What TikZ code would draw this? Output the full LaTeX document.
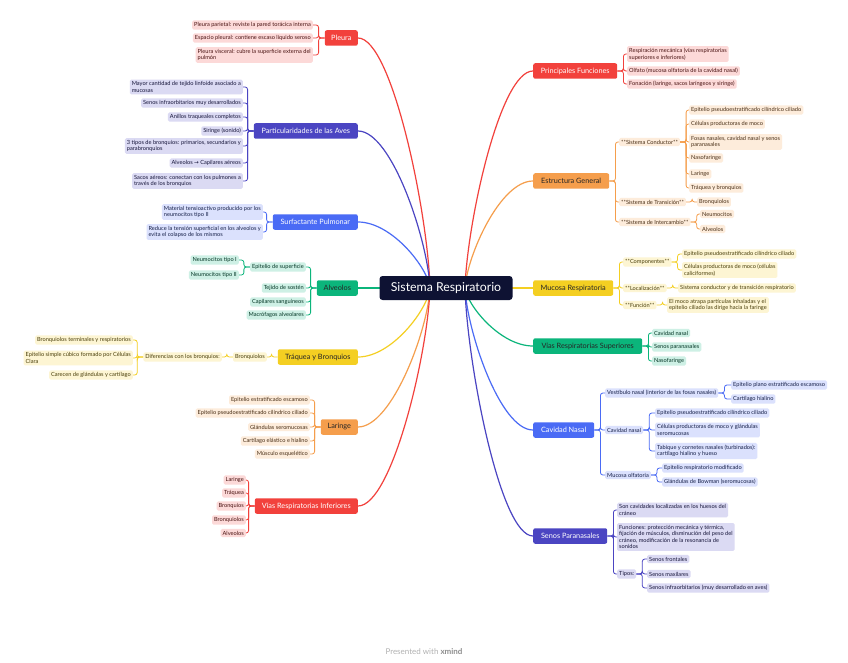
\documentclass[tikz,border=0pt]{standalone}
\usepackage{fontspec}
\setmainfont{Lato}
\newfontfamily\arrowfont{DejaVu Sans}
\usetikzlibrary{calc}
\definecolor{cRed}{HTML}{F2413C}
\definecolor{cInd}{HTML}{4B45C2}
\definecolor{cBlu}{HTML}{4A6BF5}
\definecolor{cGrn}{HTML}{0BB57B}
\definecolor{cYel}{HTML}{F4CF22}
\definecolor{cOrg}{HTML}{F59E4C}
\definecolor{cNavy}{HTML}{0E1233}
\tikzset{
 lf/.style={fill=#1!20, text=#1!30!black, rounded corners=1.5pt, inner xsep=2pt, inner ysep=2pt, font=\fontsize{5.65}{6.6}\selectfont, align=left},
 lfL/.style={lf=#1, anchor=east},
 lfR/.style={lf=#1, anchor=west},
 br/.style={fill=#1, rounded corners=2pt, minimum height=15.5pt, inner xsep=3pt, font=\fontsize{7.3}{8.3}\selectfont},
 brL/.style={br=#1, anchor=east},
 brR/.style={br=#1, anchor=west},
 ln/.style={draw=#1, line width=0.8pt, rounded corners=2.5pt},
 mc/.style={draw=#1, line width=1.2pt},
 centre/.style={fill=cNavy, text=white, rounded corners=3pt, minimum width=133pt, minimum height=24pt, font=\fontsize{12.3}{14}\selectfont},
}
\newcommand\lc[3]{\draw[ln=#1] (#2.west) -- ++(-6,0) |- (#3.east);}
\newcommand\rc[3]{\draw[ln=#1] (#2.east) -- ++(6,0) |- (#3.west);}
\begin{document}
\begin{tikzpicture}[x=1pt,y=-1pt]
\fill[white] (0,0) rectangle (848,663);
\useasboundingbox (0,0) rectangle (848,663);
% ---------- left main branches
\node[brL=cRed, text=white, minimum width=33pt] (pl) at (358,38) {Pleura};
\node[brL=cInd, text=white, minimum width=104pt] (av) at (358,131) {Particularidades de las Aves};
\node[brL=cBlu, text=white, minimum width=85pt] (sf) at (358,222) {Surfactante Pulmonar};
\node[brL=cGrn, text=black!85, minimum width=41pt] (al) at (358,288) {Alveolos};
\node[brL=cYel, text=black!85, minimum width=80pt] (tq) at (358,357) {Tráquea y Bronquios};
\node[brL=cOrg, text=black!85, minimum width=37pt] (lr) at (358,427) {Laringe};
\node[brL=cRed, text=white, minimum width=103pt] (vi) at (358,506) {Vías Respiratorias Inferiores};
% ---------- right main branches
\node[brR=cRed, text=white, minimum width=84pt] (pf) at (533,71) {Principales Funciones};
\node[brR=cOrg, text=black!85, minimum width=76pt] (eg) at (533,181) {Estructura General};
\node[brR=cYel, text=black!85, minimum width=80pt] (mr) at (533,288) {Mucosa Respiratoria};
\node[brR=cGrn, text=black!85, minimum width=109pt] (vs) at (533,346) {Vías Respiratorias Superiores};
\node[brR=cBlu, text=white, minimum width=61pt] (cn) at (533,430) {Cavidad Nasal};
\node[brR=cInd, text=white, minimum width=74pt] (sp) at (533,536) {Senos Paranasales};
% ---------- main curves
\draw[mc=cRed] (pl.east) .. controls (392,38) and (428,213) .. (430,288);
\draw[mc=cInd] (av.east) .. controls (392,131) and (428,241) .. (430,288);
\draw[mc=cBlu] (sf.east) .. controls (392,222) and (428,268) .. (430,288);
\draw[mc=cGrn] (al.east) -- (430,288);
\draw[mc=cYel] (tq.east) .. controls (392,357) and (428,309) .. (430,288);
\draw[mc=cOrg] (lr.east) .. controls (392,427) and (428,330) .. (430,288);
\draw[mc=cRed] (vi.east) .. controls (392,506) and (428,353) .. (430,288);
\draw[mc=cRed] (pf.west) .. controls (500,71) and (467,223) .. (465,288);
\draw[mc=cOrg] (eg.west) .. controls (500,181) and (467,256) .. (465,288);
\draw[mc=cYel] (mr.west) -- (465,288);
\draw[mc=cGrn] (vs.west) .. controls (500,346) and (467,305) .. (465,288);
\draw[mc=cBlu] (cn.west) .. controls (500,430) and (467,331) .. (465,288);
\draw[mc=cInd] (sp.west) .. controls (500,536) and (467,362) .. (465,288);
\node[centre] (C) at (446,288) {Sistema Respiratorio};
% ---------- Pleura
\node[lfL=cRed] (pl1) at (313,25) {Pleura parietal: reviste la pared torácica interna};
\node[lfL=cRed] (pl2) at (313,38) {Espacio pleural: contiene escaso líquido seroso};
\node[lfL=cRed] (pl3) at (313,55) {Pleura visceral: cubre la superficie externa del\\pulmón};
\foreach \n in {pl1,pl2,pl3} {\lc{cRed}{pl}{\n}}
% ---------- Aves
\node[lfL=cInd] (av1) at (243,87) {Mayor cantidad de tejido linfoide asociado a\\mucosas};
\node[lfL=cInd] (av2) at (243,103) {Senos infraorbitarios muy desarrollados};
\node[lfL=cInd] (av3) at (243,117) {Anillos traqueales completos};
\node[lfL=cInd] (av4) at (243,131) {Siringe (sonido)};
\node[lfL=cInd] (av5) at (243,146) {3 tipos de bronquios: primarios, secundarios y\\parabronquios};
\node[lfL=cInd] (av6) at (243,163) {Alveolos {\arrowfont →} Capilares aéreos};
\node[lfL=cInd] (av7) at (243,181) {Sacos aéreos: conectan con los pulmones a\\través de los bronquios};
\foreach \n in {av1,av2,av3,av4,av5,av6,av7} {\lc{cInd}{av}{\n}}
% ---------- Surfactante
\node[lfL=cBlu] (sf1) at (263,212) {Material tensioactivo producido por los\\neumocitos tipo II};
\node[lfL=cBlu] (sf2) at (263,232) {Reduce la tensión superficial en los alveolos y\\evita el colapso de los mismos};
\foreach \n in {sf1,sf2} {\lc{cBlu}{sf}{\n}}
% ---------- Alveolos
\node[lfL=cGrn] (al1) at (306,267) {Epitelio de superficie};
\node[lfL=cGrn] (al2) at (306,288) {Tejido de sostén};
\node[lfL=cGrn] (al3) at (306,302) {Capilares sanguíneos};
\node[lfL=cGrn] (al4) at (306,315) {Macrófagos alveolares};
\foreach \n in {al1,al2,al3,al4} {\lc{cGrn}{al}{\n}}
\node[lfL=cGrn] (al1a) at (239,260) {Neumocitos tipo I};
\node[lfL=cGrn] (al1b) at (239,275) {Neumocitos tipo II};
\foreach \n in {al1a,al1b} {\lc{cGrn}{al1}{\n}}
% ---------- Traquea
\node[lfL=cYel] (tq1) at (267,357) {Bronquiolos};
\node[lfL=cYel] (tq2) at (222,357) {Diferencias con los bronquios:};
\lc{cYel}{tq}{tq1}
\lc{cYel}{tq1}{tq2}
\node[lfL=cYel] (tq2a) at (133,340) {Bronquiolos terminales y respiratorios};
\node[lfL=cYel] (tq2b) at (133,358) {Epitelio simple cúbico formado por Células\\Clara};
\node[lfL=cYel] (tq2c) at (133,375) {Carecen de glándulas y cartílago};
\foreach \n in {tq2a,tq2b,tq2c} {\lc{cYel}{tq2}{\n}}
% ---------- Laringe
\node[lfL=cOrg] (lr1) at (310,400) {Epitelio estratificado escamoso};
\node[lfL=cOrg] (lr2) at (310,413) {Epitelio pseudoestratificado cilíndrico ciliado};
\node[lfL=cOrg] (lr3) at (310,427) {Glándulas seromucosas};
\node[lfL=cOrg] (lr4) at (310,441) {Cartílago elástico e hialino};
\node[lfL=cOrg] (lr5) at (310,454) {Músculo esquelético};
\foreach \n in {lr1,lr2,lr3,lr4,lr5} {\lc{cOrg}{lr}{\n}}
% ---------- Vias inferiores
\node[lfL=cRed] (vi1) at (246,480) {Laringe};
\node[lfL=cRed] (vi2) at (246,493) {Tráquea};
\node[lfL=cRed] (vi3) at (246,506) {Bronquios};
\node[lfL=cRed] (vi4) at (246,520) {Bronquiolos};
\node[lfL=cRed] (vi5) at (246,533) {Alveolos};
\foreach \n in {vi1,vi2,vi3,vi4,vi5} {\lc{cRed}{vi}{\n}}
% ---------- Principales Funciones
\node[lfR=cRed] (pf1) at (627,54) {Respiración mecánica (vías respiratorias\\superiores e inferiores)};
\node[lfR=cRed] (pf2) at (627,71) {Olfato (mucosa olfatoria de la cavidad nasal)};
\node[lfR=cRed] (pf3) at (627,84) {Fonación (laringe, sacos laríngeos y siringe)};
\foreach \n in {pf1,pf2,pf3} {\rc{cRed}{pf}{\n}}
% ---------- Estructura General
\node[lfR=cOrg] (eg1) at (619,142) {**Sistema Conductor**};
\node[lfR=cOrg] (eg2) at (619,202) {**Sistema de Transición**};
\node[lfR=cOrg] (eg3) at (619,222) {**Sistema de Intercambio**};
\foreach \n in {eg1,eg2,eg3} {\rc{cOrg}{eg}{\n}}
\node[lfR=cOrg] (eg1a) at (689,110) {Epitelio pseudoestratificado cilíndrico ciliado};
\node[lfR=cOrg] (eg1b) at (689,124) {Células productoras de moco};
\node[lfR=cOrg] (eg1c) at (689,142) {Fosas nasales, cavidad nasal y senos\\paranasales};
\node[lfR=cOrg] (eg1d) at (689,158) {Nasofaringe};
\node[lfR=cOrg] (eg1e) at (689,174) {Laringe};
\node[lfR=cOrg] (eg1f) at (689,188) {Tráquea y bronquios};
\foreach \n in {eg1a,eg1b,eg1c,eg1d,eg1e,eg1f} {\rc{cOrg}{eg1}{\n}}
\node[lfR=cOrg] (eg2a) at (697,202) {Bronquiolos};
\rc{cOrg}{eg2}{eg2a}
\node[lfR=cOrg] (eg3a) at (700,214) {Neumocitos};
\node[lfR=cOrg] (eg3b) at (700,229) {Alveolos};
\foreach \n in {eg3a,eg3b} {\rc{cOrg}{eg3}{\n}}
% ---------- Mucosa
\node[lfR=cYel] (mr1) at (623,262) {**Componentes**};
\node[lfR=cYel] (mr2) at (623,288) {**Localización**};
\node[lfR=cYel] (mr3) at (623,305) {**Función**};
\foreach \n in {mr1,mr2,mr3} {\rc{cYel}{mr}{\n}}
\node[lfR=cYel] (mr1a) at (682,254) {Epitelio pseudoestratificado cilíndrico ciliado};
\node[lfR=cYel] (mr1b) at (682,270) {Células productoras de moco (células\\caliciformes)};
\foreach \n in {mr1a,mr1b} {\rc{cYel}{mr1}{\n}}
\node[lfR=cYel] (mr2a) at (678,288) {Sistema conductor y de transición respiratorio};
\rc{cYel}{mr2}{mr2a}
\node[lfR=cYel] (mr3a) at (667,305) {El moco atrapa partículas inhaladas y el\\epitelio ciliado las dirige hacia la faringe};
\rc{cYel}{mr3}{mr3a}
% ---------- Vias superiores
\node[lfR=cGrn] (vs1) at (652,333) {Cavidad nasal};
\node[lfR=cGrn] (vs2) at (652,347) {Senos paranasales};
\node[lfR=cGrn] (vs3) at (652,361) {Nasofaringe};
\foreach \n in {vs1,vs2,vs3} {\rc{cGrn}{vs}{\n}}
% ---------- Cavidad Nasal
\node[lfR=cBlu] (cn1) at (605,393) {Vestíbulo nasal (interior de las fosas nasales)};
\node[lfR=cBlu] (cn2) at (605,430) {Cavidad nasal};
\node[lfR=cBlu] (cn3) at (605,475) {Mucosa olfatoria};
\foreach \n in {cn1,cn2,cn3} {\rc{cBlu}{cn}{\n}}
\node[lfR=cBlu] (cn1a) at (731,385) {Epitelio plano estratificado escamoso};
\node[lfR=cBlu] (cn1b) at (731,399) {Cartílago hialino};
\foreach \n in {cn1a,cn1b} {\rc{cBlu}{cn1}{\n}}
\node[lfR=cBlu] (cn2a) at (655,413) {Epitelio pseudoestratificado cilíndrico ciliado};
\node[lfR=cBlu] (cn2b) at (655,430) {Células productoras de moco y glándulas\\seromucosas};
\node[lfR=cBlu] (cn2c) at (655,451) {Tabique y cornetes nasales (turbinados):\\cartílago hialino y hueso};
\foreach \n in {cn2a,cn2b,cn2c} {\rc{cBlu}{cn2}{\n}}
\node[lfR=cBlu] (cn3a) at (662,468) {Epitelio respiratorio modificado};
\node[lfR=cBlu] (cn3b) at (662,482) {Glándulas de Bowman (seromucosas)};
\foreach \n in {cn3a,cn3b} {\rc{cBlu}{cn3}{\n}}
% ---------- Senos Paranasales
\node[lfR=cInd] (sp1) at (617,510) {Son cavidades localizadas en los huesos del\\cráneo};
\node[lfR=cInd] (sp2) at (617,537) {Funciones: protección mecánica y térmica,\\fijación de músculos, disminución del peso del\\cráneo, modificación de la resonancia de\\sonidos};
\node[lfR=cInd] (sp3) at (617,574) {Tipos:};
\foreach \n in {sp1,sp2,sp3} {\rc{cInd}{sp}{\n}}
\node[lfR=cInd] (sp3a) at (647,559) {Senos frontales};
\node[lfR=cInd] (sp3b) at (647,574) {Senos maxilares};
\node[lfR=cInd] (sp3c) at (647,588) {Senos infraorbitarios (muy desarrollado en aves)};
\foreach \n in {sp3a,sp3b,sp3c} {\rc{cInd}{sp3}{\n}}
% ---------- footer
\node[text=black!30, font=\fontsize{8}{9}\selectfont] (ft) at (424,652) {Presented with {\color{black!45}\bfseries xmind}};
\end{tikzpicture}
\end{document}
